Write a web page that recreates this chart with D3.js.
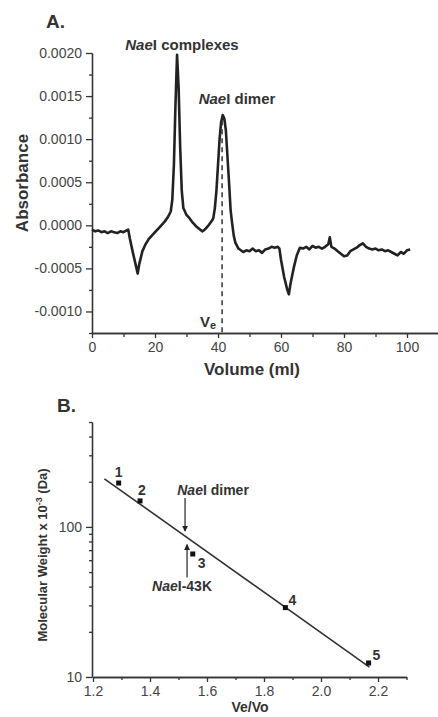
<!DOCTYPE html>
<html>
<head>
<meta charset="utf-8">
<script src="https://cdn.jsdelivr.net/npm/d3@7"></script>
<style>
  body { margin: 0; background: #fff; }
  svg { font-family: "Liberation Sans", Arial, sans-serif; }
  .tick text { fill: #444; font-size: 14px; }
  .axis path, .axis line { stroke: #333; stroke-width: 1.3; }
</style>
</head>
<body>
<script>
// panel A: elution trace (volume in ml, absorbance)
var volume = [0,1,2,3,4,5,6,7,8,9,10,11,11.5,12,13,14,14.5,15,16,17,18,19,20,21,22,23,24,25,25.5,26,26.5,27,27.5,28,28.5,29,30,31,32,33,34,35,35.5,36,37,38,38.5,39,39.5,40,40.5,41,41.5,42,42.5,43,43.5,44,44.5,45,45.5,46.5,48,49,50,51,52,53,54,55,56,57,58,59,59.5,60,61,62,62.5,63,64,65,66,67,68,69,70,71,72,73,74,75,75.5,76,77,78,79,80,81,82,83,84,85,86,87,88,89,90,91,92,93,94,95,96,97,98,99,100,101];
var absorbance = [-0.00005,-0.00007,-0.00006,-0.00008,-0.00007,-0.00009,-0.00007,-0.00008,-0.00009,-0.00007,-0.00008,-0.00006,-0.00005,-0.00015,-0.00032,-0.00048,-0.00056,-0.00045,-0.00030,-0.00022,-0.00016,-0.00012,-0.00008,-0.00004,0.00000,0.00004,0.00009,0.00016,0.00030,0.0007,0.0014,0.00198,0.0016,0.0009,0.0004,0.0002,0.00012,0.00008,0.00003,-0.00001,-0.00004,-0.00007,-0.00006,-0.00004,0.00000,0.00005,0.00008,0.0002,0.0004,0.0007,0.0010,0.0012,0.00128,0.00124,0.0011,0.0008,0.0005,0.00018,0.00002,-0.00012,-0.0002,-0.00027,-0.00031,-0.00029,-0.00030,-0.00027,-0.00030,-0.00029,-0.00032,-0.00028,-0.00027,-0.00025,-0.00026,-0.00025,-0.00027,-0.0004,-0.0006,-0.00075,-0.0008,-0.00068,-0.0005,-0.00035,-0.00026,-0.00027,-0.00025,-0.00028,-0.00024,-0.00026,-0.00025,-0.00027,-0.00025,-0.00022,-0.00014,-0.00025,-0.00027,-0.00030,-0.00033,-0.00036,-0.00035,-0.00030,-0.00028,-0.00026,-0.00023,-0.00021,-0.00025,-0.00027,-0.00028,-0.00027,-0.00029,-0.00028,-0.00030,-0.00029,-0.00031,-0.00033,-0.00035,-0.00031,-0.00033,-0.00029,-0.00028];
var veVolume = 41.3;
var xTicksA = [0, 20, 40, 60, 80, 100];
var yTicksA = [-0.001, -0.0005, 0, 0.0005, 0.001, 0.0015, 0.002];

// panel B: calibration standards
var standardsVeVo = [1.29, 1.365, 1.55, 1.875, 2.167];
var standardsMW = [196, 149, 66, 29, 12.4];
var standardLabels = ["1", "2", "3", "4", "5"];
var fitRange = [1.24, 2.17];
var dimerVeVo = 1.523, k43VeVo = 1.53;
var xTicksB = [1.2, 1.4, 1.6, 1.8, 2.0, 2.2];
var yTicksB = [10, 100];

var w = 438, h = 717;
var svg = d3.select("body").append("svg").attr("width", w).attr("height", h);

function minus(d, f){ return (d < 0 ? "-" : "") + Math.abs(d).toFixed(f); }

// ---------- panel A ----------
var xA = d3.scaleLinear().domain([0, 110]).range([92, 438.5]);
var yA = d3.scaleLinear().domain([-0.00125, 0.002]).range([333, 53]);

svg.append("g").attr("class", "axis").attr("transform", "translate(0,333)")
  .call(d3.axisBottom(xA).tickValues(d3.range(10, 110, 20)).tickSize(4).tickSizeOuter(0).tickFormat(""));
svg.append("g").attr("class", "axis").attr("transform", "translate(0,333)")
  .call(d3.axisBottom(xA).tickValues(xTicksA).tickSize(5).tickSizeOuter(0).tickPadding(4).tickFormat(function(d){ return d; }));
svg.append("g").attr("class", "axis").attr("transform", "translate(92,0)")
  .call(d3.axisLeft(yA).tickValues(d3.range(-0.00125, 0.0021, 0.0005)).tickSize(3).tickSizeOuter(0).tickFormat(""));
svg.append("g").attr("class", "axis").attr("transform", "translate(92,0)")
  .call(d3.axisLeft(yA).tickValues(yTicksA).tickSize(6).tickSizeOuter(0).tickPadding(4).tickFormat(function(d){ return minus(d, 4); }));

var traceA = volume.map(function(v, i){ return [v, absorbance[i]]; });
svg.append("path").datum(traceA)
  .attr("d", d3.line().x(function(d){ return xA(d[0]); }).y(function(d){ return yA(d[1]); }))
  .attr("fill", "none").attr("stroke", "#222").attr("stroke-width", 2.6).attr("stroke-linejoin", "round");

svg.append("line")
  .attr("x1", xA(veVolume)).attr("x2", xA(veVolume))
  .attr("y1", yA(0.00122)).attr("y2", 333)
  .attr("stroke", "#333").attr("stroke-width", 1.5).attr("stroke-dasharray", "5,4");

var ve = svg.append("text").attr("x", xA(veVolume) - 6).attr("y", 327)
  .attr("text-anchor", "end").attr("font-weight", "bold").attr("font-size", 15).attr("fill", "#333");
ve.append("tspan").text("V");
ve.append("tspan").attr("font-size", 11).attr("dy", 2).text("e");

function naeLabel(g, x, y, rest, size){
  var t = g.append("text").attr("x", x).attr("y", y).attr("text-anchor", "middle")
    .attr("font-weight", "bold").attr("font-size", size).attr("fill", "#333");
  t.append("tspan").attr("font-style", "italic").text("Nae");
  t.append("tspan").text(rest);
}
naeLabel(svg, 182, 50, "I complexes", 15);
naeLabel(svg, 237, 104, "I dimer", 15);

svg.append("text").attr("x", 46).attr("y", 28).attr("font-weight", "bold").attr("font-size", 19).attr("fill", "#333").text("A.");
svg.append("text").attr("transform", "translate(28,183) rotate(-90)").attr("text-anchor", "middle")
  .attr("font-weight", "bold").attr("font-size", 17).attr("fill", "#333").text("Absorbance");
svg.append("text").attr("x", 252).attr("y", 375).attr("text-anchor", "middle")
  .attr("font-weight", "bold").attr("font-size", 17).attr("fill", "#333").text("Volume (ml)");

// ---------- panel B ----------
var xB = d3.scaleLinear().domain([1.2, 2.3]).range([93, 406.5]);
var yB = d3.scaleLog().domain([10, 500]).range([677, 422]);

svg.append("g").attr("class", "axis").attr("transform", "translate(0,677)")
  .call(d3.axisBottom(xB).tickValues(d3.range(1.3, 2.31, 0.2)).tickSize(3).tickSizeOuter(0).tickFormat(""));
svg.append("g").attr("class", "axis").attr("transform", "translate(0,677)")
  .call(d3.axisBottom(xB).tickValues(xTicksB).tickSize(5).tickSizeOuter(0).tickPadding(4).tickFormat(function(d){ return d.toFixed(1); }));
var minorB = d3.range(20, 100, 10).concat([200, 300, 400, 500]);
svg.append("g").attr("class", "axis").attr("transform", "translate(92,0)")
  .call(d3.axisLeft(yB).tickValues(minorB).tickSize(3).tickSizeOuter(0).tickFormat(""));
svg.append("g").attr("class", "axis").attr("transform", "translate(92,0)")
  .call(d3.axisLeft(yB).tickValues(yTicksB).tickSize(6).tickSizeOuter(0).tickPadding(4).tickFormat(function(d){ return d; }));

// least squares fit of log10(MW) on Ve/Vo
var lx = standardsVeVo, ly = standardsMW.map(function(d){ return Math.log10(d); });
var mx = d3.mean(lx), my = d3.mean(ly);
var slope = d3.sum(lx, function(d, i){ return (d - mx) * (ly[i] - my); }) / d3.sum(lx, function(d){ return (d - mx) * (d - mx); });
var icpt = my - slope * mx;
function fit(x){ return Math.pow(10, icpt + slope * x); }

svg.append("line")
  .attr("x1", xB(fitRange[0])).attr("y1", yB(fit(fitRange[0])))
  .attr("x2", xB(fitRange[1])).attr("y2", yB(fit(fitRange[1])))
  .attr("stroke", "#333").attr("stroke-width", 1.6);

svg.selectAll(".pt").data(standardsVeVo).enter().append("rect").attr("class", "pt")
  .attr("x", function(d){ return xB(d) - 2.5; })
  .attr("y", function(d, i){ return yB(standardsMW[i]) - 2.5; })
  .attr("width", 5).attr("height", 5).attr("fill", "#111");

var lblOff = [[-4, -6], [-2, -6], [5, 14], [3, -3], [4, -3]];
svg.selectAll(".plbl").data(standardLabels).enter().append("text").attr("class", "plbl")
  .attr("x", function(d, i){ return xB(standardsVeVo[i]) + lblOff[i][0]; })
  .attr("y", function(d, i){ return yB(standardsMW[i]) + lblOff[i][1]; })
  .attr("font-weight", "bold").attr("font-size", 14).attr("fill", "#333").text(function(d){ return d; });

var defs = svg.append("defs");
defs.append("marker").attr("id", "ah").attr("viewBox", "0 0 10 10").attr("refX", 9).attr("refY", 5)
  .attr("markerWidth", 6).attr("markerHeight", 8).attr("orient", "auto").attr("markerUnits", "userSpaceOnUse")
  .append("path").attr("d", "M0,0 L10,5 L0,10 Z").attr("fill", "#222");

var dx = xB(dimerVeVo), dy = yB(fit(dimerVeVo));
svg.append("line").attr("x1", dx).attr("x2", dx).attr("y1", dy - 38).attr("y2", dy - 5)
  .attr("stroke", "#222").attr("stroke-width", 1.2).attr("marker-end", "url(#ah)");
naeLabel(svg, dx + 28, dy - 41, "I dimer", 14);

var kx = xB(k43VeVo), ky = yB(fit(k43VeVo));
svg.append("line").attr("x1", kx).attr("x2", kx).attr("y1", ky + 40).attr("y2", ky + 7)
  .attr("stroke", "#222").attr("stroke-width", 1.2).attr("marker-end", "url(#ah)");
naeLabel(svg, kx - 5, ky + 53, "I-43K", 14);

svg.append("text").attr("x", 57).attr("y", 412).attr("font-weight", "bold").attr("font-size", 19).attr("fill", "#333").text("B.");
var yl = svg.append("text").attr("transform", "translate(47,555) rotate(-90)").attr("text-anchor", "middle")
  .attr("font-weight", "bold").attr("font-size", 13).attr("fill", "#333");
yl.append("tspan").text("Molecular Weight x 10");
yl.append("tspan").attr("font-size", 9).attr("dy", -5).text("-3");
yl.append("tspan").attr("dy", 5).text(" (Da)");
svg.append("text").attr("x", 250).attr("y", 712).attr("text-anchor", "middle")
  .attr("font-weight", "bold").attr("font-size", 14).attr("fill", "#333").text("Ve/Vo");
</script>
</body>
</html>
